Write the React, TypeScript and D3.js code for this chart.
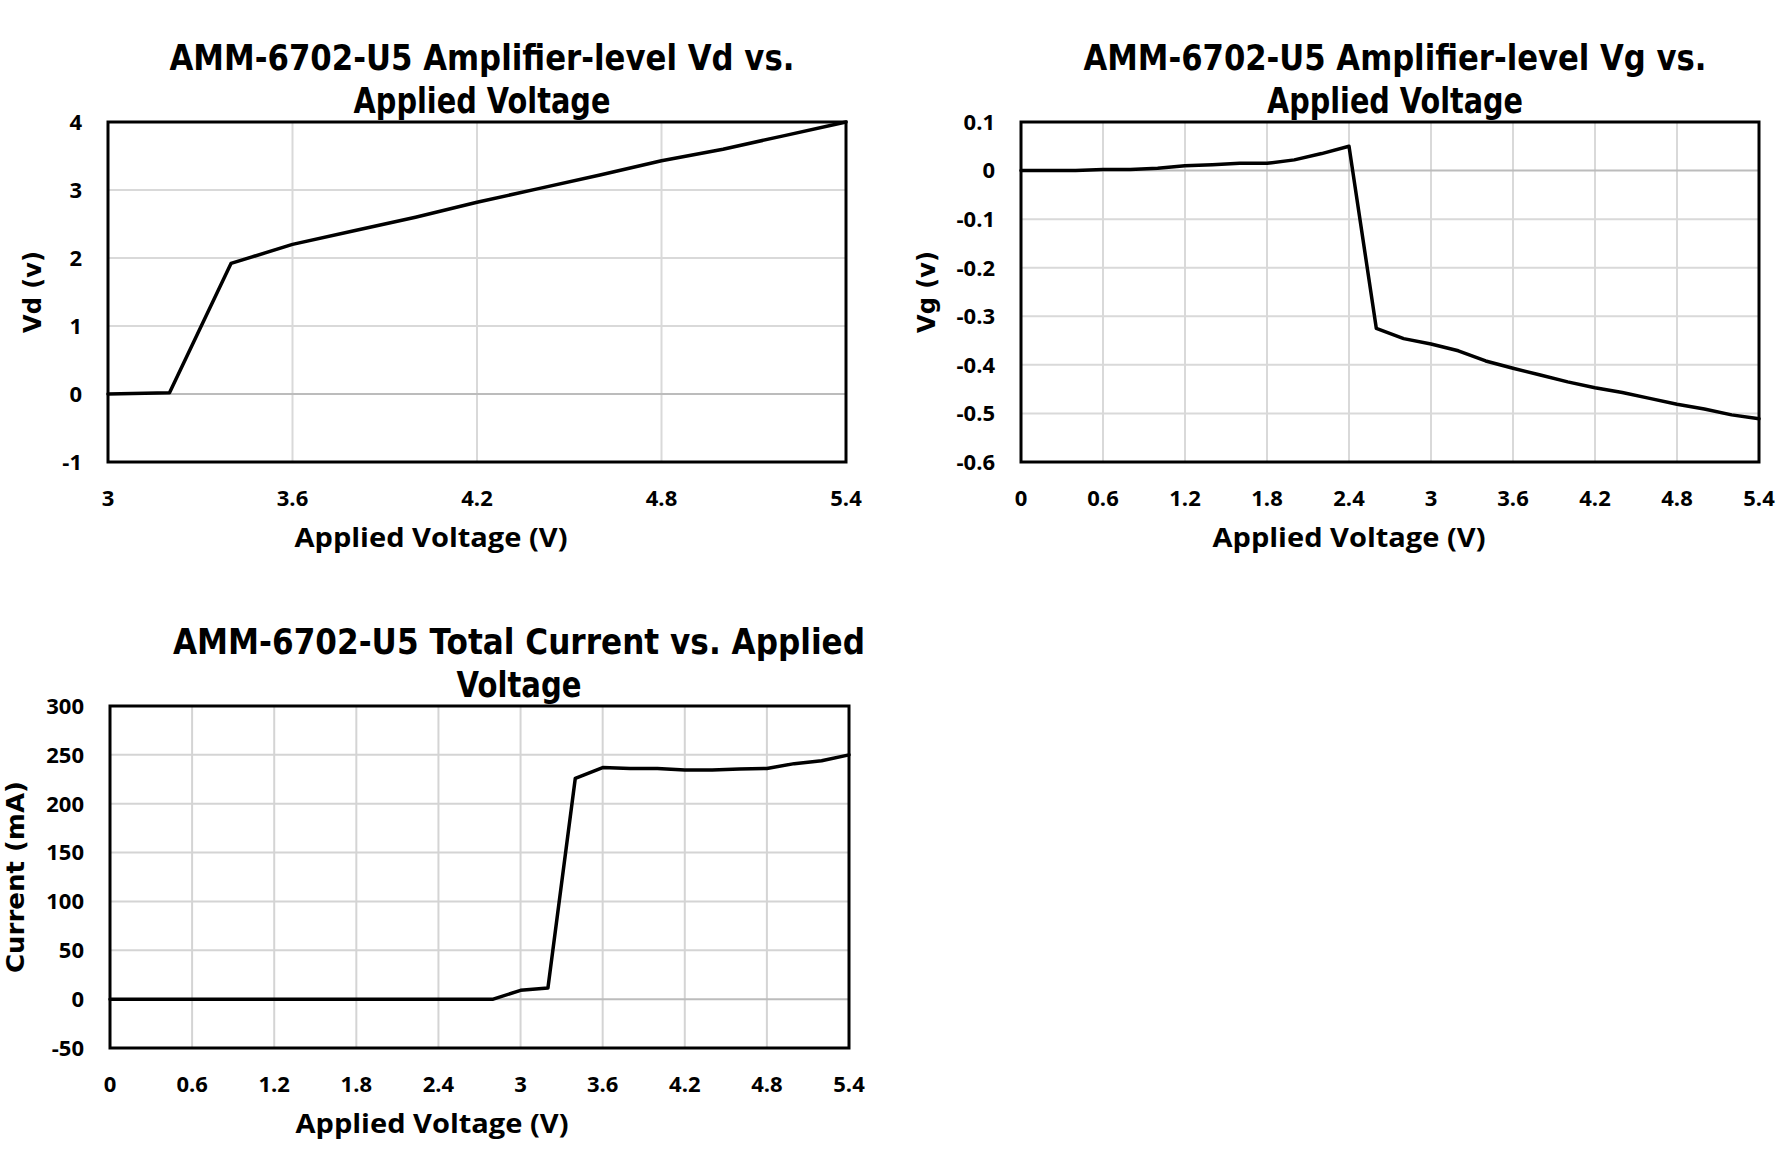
import React from 'react';
import * as d3 from 'd3';

// Vd vs applied voltage (3 V .. 5.4 V)
const vdApplied = [3, 3.2, 3.4, 3.6, 3.8, 4.0, 4.2, 4.4, 4.6, 4.8, 5.0, 5.2, 5.4];
const vdValues = [0, 0.02, 1.92, 2.2, 2.4, 2.6, 2.82, 3.02, 3.22, 3.43, 3.6, 3.8, 4.0];

// Vg / current vs applied voltage (0 V .. 5.4 V)
const sweepApplied = [
  0, 0.2, 0.4, 0.6, 0.8, 1.0, 1.2, 1.4, 1.6, 1.8, 2.0, 2.2, 2.4, 2.6,
  2.8, 3.0, 3.2, 3.4, 3.6, 3.8, 4.0, 4.2, 4.4, 4.6, 4.8, 5.0, 5.2, 5.4
];
const vgValues = [
  0, 0, 0, 0.002, 0.002, 0.005, 0.01, 0.012, 0.015, 0.015, 0.022, 0.035, 0.05, -0.325,
  -0.346, -0.357, -0.371, -0.392, -0.407, -0.421, -0.435, -0.447, -0.457, -0.469, -0.481, -0.491, -0.503, -0.511
];
const currentValues = [
  0, 0, 0, 0, 0, 0, 0, 0, 0, 0, 0, 0, 0, 0,
  0, 9, 11.5, 226, 237, 236, 236, 234.5, 234.5, 235.5, 236, 241, 244, 250
];

const vdXTicks = [3, 3.6, 4.2, 4.8, 5.4];
const vdYTicks = [4, 3, 2, 1, 0, -1];
const sweepXTicks = [0, 0.6, 1.2, 1.8, 2.4, 3, 3.6, 4.2, 4.8, 5.4];
const vgYTicks = [0.1, 0, -0.1, -0.2, -0.3, -0.4, -0.5, -0.6];
const currentYTicks = [300, 250, 200, 150, 100, 50, 0, -50];

const TITLE_FONT = '"DejaVu Sans", Verdana, sans-serif';
const TICK_FONT = '"Open Sans", "Noto Sans", sans-serif';

interface PanelProps {
  left: number;
  top: number;
  width: number;
  height: number;
  xs: number[];
  ys: number[];
  xTicks: number[];
  yTicks: number[];
  titleLines: string[];
  titleWidths: number[];
  titleX: number;
  xLabelX: number;
  yLabel: string;
  yLabelX: number;
  yLabelWidth: number;
  gridColor: string;
}

const Panel: React.FC<PanelProps> = ({
  left, top, width, height, xs, ys, xTicks, yTicks,
  titleLines, titleWidths, titleX, xLabelX, yLabel, yLabelX, yLabelWidth, gridColor
}) => {
  const x = d3.scaleLinear()
    .domain(d3.extent(xTicks) as [number, number])
    .range([left, left + width]);
  const y = d3.scaleLinear()
    .domain(d3.extent(yTicks) as [number, number])
    .range([top + height, top]);

  const line = d3.line<number>()
    .x((_, i) => x(xs[i]))
    .y(d => y(d));

  const bottom = top + height;
  const xMin = x.domain()[0], xMax = x.domain()[1];
  const yMin = y.domain()[0], yMax = y.domain()[1];

  return (
    <g>
      {/* title */}
      {titleLines.map((t, i) => (
        <text key={t} x={titleX} y={top - 52 + i * 43} textAnchor="middle"
          fontFamily={TITLE_FONT} fontWeight={700} fontSize={35} fill="#000"
          textLength={titleWidths[i]} lengthAdjust="spacingAndGlyphs">{t}</text>
      ))}

      {/* grid */}
      {xTicks.filter(t => t !== xMin && t !== xMax).map(t => (
        <line key={'gx' + t} x1={x(t)} x2={x(t)} y1={top} y2={bottom}
          stroke={gridColor} strokeWidth={2} />
      ))}
      {yTicks.filter(t => t !== yMin && t !== yMax).map(t => (
        <line key={'gy' + t} x1={left} x2={left + width} y1={y(t)} y2={y(t)}
          stroke={t === 0 ? '#bcbcbc' : gridColor} strokeWidth={2} />
      ))}

      {/* series */}
      <path d={line(ys) ?? ''} fill="none" stroke="#000" strokeWidth={3.5}
        strokeLinejoin="round" strokeLinecap="round" />

      {/* plot border */}
      <rect x={left} y={top} width={width} height={height}
        fill="none" stroke="#000" strokeWidth={3} />

      {/* tick labels */}
      {xTicks.map(t => (
        <text key={'tx' + t} x={x(t)} y={bottom + 44} textAnchor="middle"
          fontFamily={TICK_FONT} fontWeight={700} fontSize={22} fill="#000">{String(t)}</text>
      ))}
      {yTicks.map(t => (
        <text key={'ty' + t} x={left - 26} y={y(t)} dy="0.36em" textAnchor="end"
          fontFamily={TICK_FONT} fontWeight={700} fontSize={22} fill="#000">{String(t)}</text>
      ))}

      {/* axis titles */}
      <text x={xLabelX} y={bottom + 85} textAnchor="middle"
        fontFamily={TICK_FONT} fontWeight={700} fontSize={27} fill="#000"
        textLength={273} lengthAdjust="spacingAndGlyphs">Applied Voltage (V)</text>
      <text transform={`translate(${yLabelX},${top + height / 2}) rotate(-90)`}
        textAnchor="middle" fontFamily={TITLE_FONT} fontWeight={700} fontSize={25}
        fill="#000" textLength={yLabelWidth} lengthAdjust="spacingAndGlyphs">{yLabel}</text>
    </g>
  );
};

const App: React.FC = () => (
  <svg width={1792} height={1153} viewBox="0 0 1792 1153"
    style={{ position: 'absolute', left: 0, top: 0, background: '#fff' }}>
    <rect width={1792} height={1153} fill="#fff" />
    <Panel left={108} top={122} width={738} height={340}
      xs={vdApplied} ys={vdValues} xTicks={vdXTicks} yTicks={vdYTicks}
      titleLines={['AMM-6702-U5 Amplifier-level Vd vs.', 'Applied Voltage']}
      titleWidths={[625, 257]} titleX={482} xLabelX={431}
      yLabel="Vd (v)" yLabelX={41} yLabelWidth={82} gridColor="#d9d9d9" />
    <Panel left={1021} top={122} width={738} height={340}
      xs={sweepApplied} ys={vgValues} xTicks={sweepXTicks} yTicks={vgYTicks}
      titleLines={['AMM-6702-U5 Amplifier-level Vg vs.', 'Applied Voltage']}
      titleWidths={[623, 256]} titleX={1395} xLabelX={1349}
      yLabel="Vg (v)" yLabelX={935} yLabelWidth={82} gridColor="#d9d9d9" />
    <Panel left={110} top={706} width={739} height={342}
      xs={sweepApplied} ys={currentValues} xTicks={sweepXTicks} yTicks={currentYTicks}
      titleLines={['AMM-6702-U5 Total Current vs. Applied', 'Voltage']}
      titleWidths={[692, 125]} titleX={519} xLabelX={432}
      yLabel="Current (mA)" yLabelX={24} yLabelWidth={192} gridColor="#d4d4d4" />
  </svg>
);

export default App;
